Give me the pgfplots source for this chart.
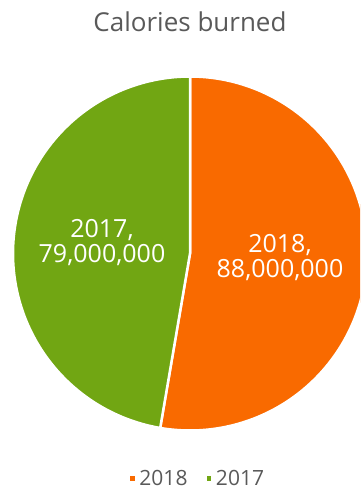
\documentclass[border=0pt]{standalone}
\usepackage{pgfplots}
\pgfplotsset{compat=1.18}
\usepackage{fontspec}
\setmainfont{Open Sans}
\definecolor{cOrange}{HTML}{F96A00}
\definecolor{cGreen}{HTML}{71A613}
\definecolor{cGray}{HTML}{595959}
\begin{document}
\begin{tikzpicture}
% data: 2018 = 88,000,000 ; 2017 = 79,000,000 (in millions)
\pgfmathsetmacro{\angA}{88/(88+79)*360}
\pgfmathsetmacro{\endA}{90-\angA}
\pgfmathsetmacro{\endB}{360+\endA}
\begin{axis}[
  at={(0,0)}, anchor=south west,
  width=360pt, height=491pt, scale only axis,
  xmin=0, xmax=360, ymin=0, ymax=491,
  hide axis, clip=true,
  legend style={at={(axis cs:197,12)}, anchor=center, draw=none, fill=none,
    font=\fontsize{21}{24}\selectfont, text=cGray,
    /tikz/every even column/.append style={column sep=15pt}},
  legend columns=2,
  legend image code/.code={\fill[#1] (0pt,-3pt) rectangle (7pt,4pt);},
]
\addplot[fill=cOrange, draw=white, line width=2.5pt, domain=90:\endA, samples=150]
  ({190+177*cos(x)},{237.5+177*sin(x)}) -- (axis cs:190,237.5) -- cycle;
\addlegendentry{2018}
\addplot[fill=cGreen, draw=white, line width=2.5pt, domain=90:\endB, samples=150]
  ({190+177*cos(x)},{237.5+177*sin(x)}) -- (axis cs:190,237.5) -- cycle;
\addlegendentry{2017}
\node[align=center, text=white, font=\fontsize{25}{25}\selectfont] at (axis cs:280,233) {2018,\\88,000,000};
\node[align=center, text=white, font=\fontsize{25}{25}\selectfont] at (axis cs:102,248) {2017,\\79,000,000};
\node[text=cGray, font=\fontsize{26}{30}\selectfont] at (axis cs:190,469) {Calories burned};
\end{axis}
\pgfresetboundingbox
\path[use as bounding box] (0,0) rectangle (360pt,491pt);
\end{tikzpicture}
\end{document}
